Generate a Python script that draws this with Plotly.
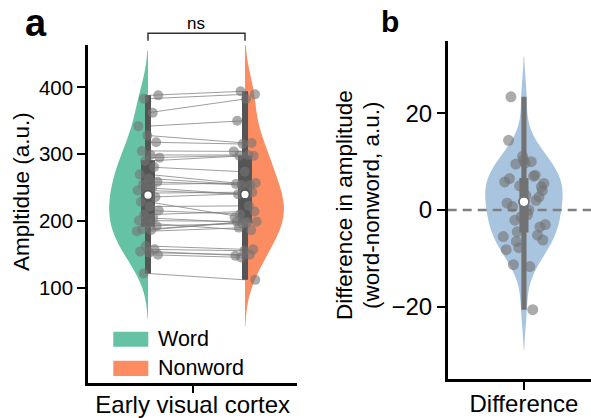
import numpy as np
import plotly.graph_objects as go

# ---------------- data ----------------
word = [122, 150, 153, 155, 158, 163, 185, 187, 188, 193, 197, 201, 205, 210, 216, 222,
        229, 236, 242, 246, 250, 255, 259, 264, 270, 281, 290, 295, 299, 305, 318, 328,
        342, 362, 383, 388]
nonword = [112.5, 146, 150, 148.5, 156, 158, 190.5, 198.7, 199.3, 196.5, 186.7, 199.6, 198,
           214.5, 210.5, 223, 205.6, 241.2, 243.4, 240.2, 240, 257.1, 254.2, 254.3, 255.6,
           273.8, 297.8, 298, 299, 304.3, 315.3, 316.9, 350.2, 382.6, 389.5, 394.2]
conditions = ["Word", "Nonword"]
region_label = ["Early visual cortex"]
diff_label = ["Difference"]
yticks_a = [100, 200, 300, 400]
yticks_b = [-20, 0, 20]

word = np.array(word, float)
nonword = np.array(nonword, float)
diff = word - nonword

# ---------------- styles ----------------
FONT = "Liberation Sans, Arial, sans-serif"
GREEN = "#66c2a5"
ORANGE = "#fc8d62"
BLUE = "rgb(168,196,223)"
BOXC = "#555555"
BOXC_B = "#727272"
PT = "rgba(115,115,115,0.6)"
POS_W, POS_N, POS_D = -0.5, 0.5, 0.0


def scott_bw(v):
    return np.std(v, ddof=1) * len(v) ** (-1 / 5)


def jitter(n, amp):
    return (((np.arange(n) * 0.618034 + 0.31) % 1.0) - 0.5) * 2 * amp


def box_traces(vals, pos, hw_box, hw_wh, color, xa, ya):
    q1, med, q3 = np.percentile(vals, [25, 50, 75])
    lo, hi = vals.min(), vals.max()
    tr = []
    tr.append(go.Scatter(x=[pos - hw_wh, pos + hw_wh, pos + hw_wh, pos - hw_wh, pos - hw_wh],
                         y=[lo, lo, hi, hi, lo], fill="toself", fillcolor=color,
                         line=dict(width=0), mode="lines", xaxis=xa, yaxis=ya, hoverinfo="skip"))
    tr.append(go.Scatter(x=[pos - hw_box, pos + hw_box, pos + hw_box, pos - hw_box, pos - hw_box],
                         y=[q1, q1, q3, q3, q1], fill="toself", fillcolor=color,
                         line=dict(width=0), mode="lines", xaxis=xa, yaxis=ya, hoverinfo="skip"))
    return tr, med


def median_trace(pos, med, xa, ya, color, size):
    return go.Scatter(x=[pos], y=[med], mode="markers", xaxis=xa, yaxis=ya,
                      marker=dict(color="white", size=size, line=dict(color=color, width=1.8)),
                      hoverinfo="skip")


fig = go.Figure()

# ---------------- panel a ----------------
fig.add_trace(go.Violin(x=[POS_W] * len(word), y=word, side="negative", width=0.8,
                        bandwidth=scott_bw(word), spanmode="soft", points=False,
                        fillcolor=GREEN, line=dict(color=GREEN, width=0), opacity=1,
                        xaxis="x", yaxis="y", name=conditions[0], hoverinfo="skip"))
fig.add_trace(go.Violin(x=[POS_N] * len(nonword), y=nonword, side="positive", width=0.8,
                        bandwidth=scott_bw(nonword), spanmode="soft", points=False,
                        fillcolor=ORANGE, line=dict(color=ORANGE, width=0), opacity=1,
                        xaxis="x", yaxis="y", name=conditions[1], hoverinfo="skip"))

jw = POS_W + jitter(len(word), 0.12)
jn = POS_N + jitter(len(nonword), 0.12)[::-1]

lx, ly = [], []
for a, b in zip(word, nonword):
    lx += [POS_W, POS_N, None]
    ly += [a, b, None]
fig.add_trace(go.Scatter(x=lx, y=ly, mode="lines", line=dict(color="rgba(125,125,125,0.75)", width=1),
                         xaxis="x", yaxis="y", hoverinfo="skip"))

tw, med_w = box_traces(word, POS_W, 0.072, 0.031, BOXC, "x", "y")
tn, med_n = box_traces(nonword, POS_N, 0.072, 0.031, BOXC, "x", "y")
for t in tw + tn:
    fig.add_trace(t)

fig.add_trace(go.Scatter(x=jw, y=word, mode="markers", marker=dict(color=PT, size=10),
                         xaxis="x", yaxis="y", hoverinfo="skip"))
fig.add_trace(go.Scatter(x=jn, y=nonword, mode="markers", marker=dict(color=PT, size=10),
                         xaxis="x", yaxis="y", hoverinfo="skip"))
fig.add_trace(median_trace(POS_W, med_w, "x", "y", BOXC, 9))
fig.add_trace(median_trace(POS_N, med_n, "x", "y", BOXC, 9))

# ---------------- panel b ----------------
fig.add_trace(go.Violin(x=[POS_D] * len(diff), y=diff, width=0.54,
                        bandwidth=scott_bw(diff), spanmode="soft", points=False,
                        fillcolor=BLUE, line=dict(color=BLUE, width=0), opacity=1,
                        xaxis="x2", yaxis="y2", name="Difference", hoverinfo="skip"))
fig.add_trace(go.Scatter(x=[-0.532, 0.468], y=[0, 0], mode="lines",
                         line=dict(color="#808080", width=2.5, dash="9px,6px"),
                         xaxis="x2", yaxis="y2", hoverinfo="skip"))
td, med_d = box_traces(diff, POS_D, 0.032, 0.018, BOXC_B, "x2", "y2")
for t in td:
    fig.add_trace(t)
fig.add_trace(go.Scatter(x=POS_D + jitter(len(diff), 0.15), y=diff, mode="markers",
                         marker=dict(color=PT, size=11), xaxis="x2", yaxis="y2", hoverinfo="skip"))
fig.add_trace(median_trace(POS_D, med_d, "x2", "y2", BOXC_B, 10))

# ---------------- layout ----------------
W, H = 591, 418


def axis_style(fs, standoff=None):
    d = dict(showline=True, linecolor="black", linewidth=2.5, ticks="outside",
             ticklen=8, tickwidth=2, tickcolor="black", showgrid=False, zeroline=False,
             automargin=False, tickfont=dict(size=fs, color="black", family=FONT))
    if standoff is not None:
        d["ticklabelstandoff"] = standoff
    return d


fig.update_layout(
    width=W, height=H, margin=dict(l=0, r=0, t=0, b=0, autoexpand=False),
    paper_bgcolor="white", plot_bgcolor="white", showlegend=False,
    violinmode="overlay",
    font=dict(family=FONT, color="black"),
    xaxis=dict(domain=[88 / W, 297 / W], range=[-1.1186, 1.036], tickvals=[-0.04],
               ticktext=region_label, **axis_style(24, -9)),
    yaxis=dict(domain=[1 - 382.7 / H, 1 - 45 / H], range=[-41.1, 463.2], tickvals=yticks_a,
               **axis_style(20.5)),
    xaxis2=dict(domain=[447.7 / W, 1.0], range=[-0.532, 0.468], tickvals=[0],
                ticktext=diff_label, anchor="y2", **axis_style(24, -7)),
    yaxis2=dict(domain=[1 - 379.3 / H, 1 - 40.7 / H], range=[-35, 35], tickvals=yticks_b,
                anchor="x2", **axis_style(24)),
)


def txt(text, x, y, size, angle=0, xanchor="center", xref="paper"):
    return dict(text=text, x=x if xref != "paper" else x / W, y=1 - y / H, xref=xref,
                yref="paper", xanchor=xanchor, yanchor="middle", textangle=angle,
                showarrow=False, font=dict(size=size, color="black", family=FONT))


ann = [
    txt("<b>a</b>", 36, 23, 38),
    txt("<b>b</b>", 390, 22, 30),
    txt("Ampltidue (a.u.)", 22, 192, 22.5, angle=-90),
    txt("Difference in amplitude", 345, 205, 22.5, angle=-90),
    txt("(word-nonword, a.u.)", 372, 205, 22.5, angle=-90),
    txt("ns", 196.3, 24, 17),
    txt(conditions[0], 156, 339, 21.5, xanchor="left"),
    txt(conditions[1], 156, 368, 21.5, xanchor="left"),
]
fig.update_layout(annotations=ann)

shapes = [
    dict(type="path", xref="x", yref="paper",
         path=f"M {POS_W},{1 - 40.7 / H} L {POS_W},{1 - 33.3 / H} L {POS_N},{1 - 33.3 / H} L {POS_N},{1 - 40.7 / H}",
         line=dict(color="#333333", width=1.5)),
    dict(type="rect", xref="paper", yref="paper", x0=113.3 / W, x1=148.3 / W,
         y0=1 - 346.7 / H, y1=1 - 331.7 / H, fillcolor=GREEN, line=dict(width=0)),
    dict(type="rect", xref="paper", yref="paper", x0=113.3 / W, x1=148.3 / W,
         y0=1 - 376 / H, y1=1 - 360.7 / H, fillcolor=ORANGE, line=dict(width=0)),
]
fig.update_layout(shapes=shapes)

fig.write_html("out.html")
